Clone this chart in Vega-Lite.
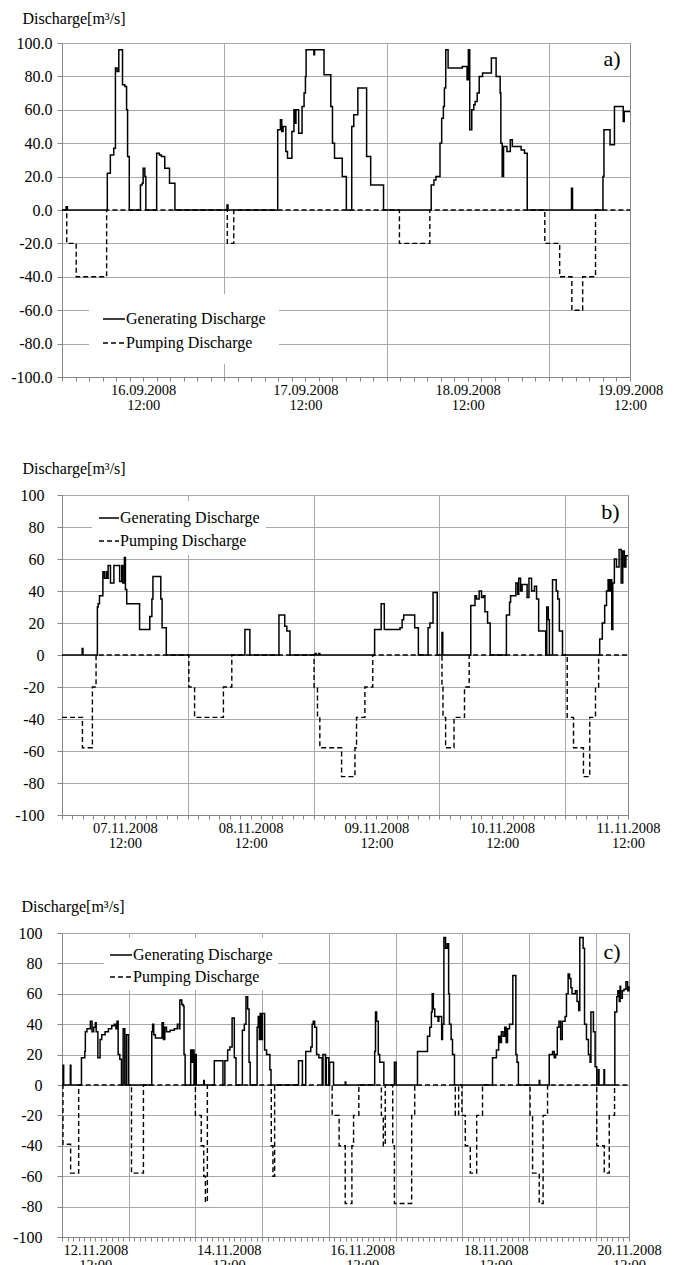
{
  "$schema": "https://vega.github.io/schema/vega-lite/v6.json",
  "background": "white",
  "padding": {"left": 10, "top": 9, "right": 5, "bottom": 5},
  "datasets": {
    "a_gen": [
      {"t": "2008-09-16T00:00:00Z", "q": 0}, {"t": "2008-09-16T00:36:00Z", "q": 2}, {"t": "2008-09-16T00:48:00Z", "q": 0},
      {"t": "2008-09-16T06:42:00Z", "q": 22}, {"t": "2008-09-16T07:09:00Z", "q": 33}, {"t": "2008-09-16T07:39:00Z", "q": 37},
      {"t": "2008-09-16T07:54:00Z", "q": 85}, {"t": "2008-09-16T08:09:00Z", "q": 83}, {"t": "2008-09-16T08:24:00Z", "q": 96},
      {"t": "2008-09-16T08:57:00Z", "q": 75}, {"t": "2008-09-16T09:18:00Z", "q": 74}, {"t": "2008-09-16T09:33:00Z", "q": 60},
      {"t": "2008-09-16T09:42:00Z", "q": 32}, {"t": "2008-09-16T09:57:00Z", "q": 0}, {"t": "2008-09-16T11:36:00Z", "q": 15},
      {"t": "2008-09-16T11:51:00Z", "q": 16}, {"t": "2008-09-16T12:00:00Z", "q": 25}, {"t": "2008-09-16T12:15:00Z", "q": 20},
      {"t": "2008-09-16T12:24:00Z", "q": 0}, {"t": "2008-09-16T14:00:00Z", "q": 34}, {"t": "2008-09-16T14:24:00Z", "q": 33},
      {"t": "2008-09-16T14:42:00Z", "q": 32}, {"t": "2008-09-16T15:12:00Z", "q": 25}, {"t": "2008-09-16T15:54:00Z", "q": 16},
      {"t": "2008-09-16T16:42:00Z", "q": 0}, {"t": "2008-09-17T00:24:00Z", "q": 3}, {"t": "2008-09-17T00:33:00Z", "q": 0},
      {"t": "2008-09-17T07:54:00Z", "q": 48}, {"t": "2008-09-17T08:18:00Z", "q": 54}, {"t": "2008-09-17T08:30:00Z", "q": 47},
      {"t": "2008-09-17T08:42:00Z", "q": 50}, {"t": "2008-09-17T09:06:00Z", "q": 35}, {"t": "2008-09-17T09:21:00Z", "q": 31},
      {"t": "2008-09-17T10:00:00Z", "q": 47}, {"t": "2008-09-17T10:18:00Z", "q": 60}, {"t": "2008-09-17T10:27:00Z", "q": 52},
      {"t": "2008-09-17T10:36:00Z", "q": 60}, {"t": "2008-09-17T11:00:00Z", "q": 46}, {"t": "2008-09-17T11:30:00Z", "q": 62},
      {"t": "2008-09-17T11:48:00Z", "q": 70}, {"t": "2008-09-17T12:00:00Z", "q": 80}, {"t": "2008-09-17T12:06:00Z", "q": 96},
      {"t": "2008-09-17T13:15:00Z", "q": 93}, {"t": "2008-09-17T13:21:00Z", "q": 96}, {"t": "2008-09-17T14:45:00Z", "q": 81},
      {"t": "2008-09-17T15:45:00Z", "q": 62}, {"t": "2008-09-17T16:00:00Z", "q": 40}, {"t": "2008-09-17T16:18:00Z", "q": 31},
      {"t": "2008-09-17T17:27:00Z", "q": 20}, {"t": "2008-09-17T18:03:00Z", "q": 0}, {"t": "2008-09-17T18:51:00Z", "q": 50},
      {"t": "2008-09-17T19:09:00Z", "q": 57}, {"t": "2008-09-17T19:45:00Z", "q": 73}, {"t": "2008-09-17T21:03:00Z", "q": 32},
      {"t": "2008-09-17T21:39:00Z", "q": 15}, {"t": "2008-09-17T23:33:00Z", "q": 0}, {"t": "2008-09-18T06:36:00Z", "q": 15},
      {"t": "2008-09-18T07:00:00Z", "q": 18}, {"t": "2008-09-18T07:18:00Z", "q": 20}, {"t": "2008-09-18T07:54:00Z", "q": 40},
      {"t": "2008-09-18T08:09:00Z", "q": 55}, {"t": "2008-09-18T08:24:00Z", "q": 62}, {"t": "2008-09-18T08:33:00Z", "q": 73},
      {"t": "2008-09-18T08:45:00Z", "q": 96}, {"t": "2008-09-18T09:06:00Z", "q": 85}, {"t": "2008-09-18T11:12:00Z", "q": 86},
      {"t": "2008-09-18T11:54:00Z", "q": 78}, {"t": "2008-09-18T12:06:00Z", "q": 96}, {"t": "2008-09-18T12:18:00Z", "q": 48},
      {"t": "2008-09-18T12:36:00Z", "q": 60}, {"t": "2008-09-18T12:54:00Z", "q": 63}, {"t": "2008-09-18T13:06:00Z", "q": 65},
      {"t": "2008-09-18T13:24:00Z", "q": 70}, {"t": "2008-09-18T13:42:00Z", "q": 80}, {"t": "2008-09-18T14:12:00Z", "q": 82},
      {"t": "2008-09-18T15:30:00Z", "q": 91}, {"t": "2008-09-18T16:12:00Z", "q": 80}, {"t": "2008-09-18T16:48:00Z", "q": 70},
      {"t": "2008-09-18T16:54:00Z", "q": 40}, {"t": "2008-09-18T17:06:00Z", "q": 20}, {"t": "2008-09-18T17:18:00Z", "q": 38},
      {"t": "2008-09-18T17:48:00Z", "q": 35}, {"t": "2008-09-18T18:18:00Z", "q": 42}, {"t": "2008-09-18T18:36:00Z", "q": 38},
      {"t": "2008-09-18T19:54:00Z", "q": 36}, {"t": "2008-09-18T20:24:00Z", "q": 34}, {"t": "2008-09-18T20:48:00Z", "q": 0},
      {"t": "2008-09-19T03:21:00Z", "q": 13}, {"t": "2008-09-19T03:30:00Z", "q": 0}, {"t": "2008-09-19T08:00:00Z", "q": 20},
      {"t": "2008-09-19T08:09:00Z", "q": 48}, {"t": "2008-09-19T09:03:00Z", "q": 39}, {"t": "2008-09-19T09:42:00Z", "q": 62},
      {"t": "2008-09-19T11:00:00Z", "q": 53}, {"t": "2008-09-19T11:09:00Z", "q": 59}, {"t": "2008-09-19T12:00:00Z", "q": 59}
    ],
    "a_pump": [
      {"t": "2008-09-16T00:00:00Z", "q": 0}, {"t": "2008-09-16T00:42:00Z", "q": -20}, {"t": "2008-09-16T02:06:00Z", "q": -40},
      {"t": "2008-09-16T06:36:00Z", "q": 0}, {"t": "2008-09-17T00:27:00Z", "q": -20}, {"t": "2008-09-17T01:24:00Z", "q": 0},
      {"t": "2008-09-18T01:54:00Z", "q": -20}, {"t": "2008-09-18T06:24:00Z", "q": 0}, {"t": "2008-09-18T23:24:00Z", "q": -20},
      {"t": "2008-09-19T01:36:00Z", "q": -40}, {"t": "2008-09-19T03:24:00Z", "q": -60}, {"t": "2008-09-19T05:00:00Z", "q": -40},
      {"t": "2008-09-19T06:54:00Z", "q": 0}, {"t": "2008-09-19T12:00:00Z", "q": 0}
    ],
    "b_gen": [
      {"t": "2008-11-07T00:00:00Z", "q": 0}, {"t": "2008-11-07T03:51:00Z", "q": 4}, {"t": "2008-11-07T04:00:00Z", "q": 0},
      {"t": "2008-11-07T06:45:00Z", "q": 30}, {"t": "2008-11-07T06:54:00Z", "q": 32}, {"t": "2008-11-07T07:09:00Z", "q": 37},
      {"t": "2008-11-07T07:48:00Z", "q": 52}, {"t": "2008-11-07T08:06:00Z", "q": 48}, {"t": "2008-11-07T08:27:00Z", "q": 52},
      {"t": "2008-11-07T08:39:00Z", "q": 48}, {"t": "2008-11-07T08:48:00Z", "q": 56}, {"t": "2008-11-07T09:15:00Z", "q": 45},
      {"t": "2008-11-07T09:54:00Z", "q": 56}, {"t": "2008-11-07T11:00:00Z", "q": 46}, {"t": "2008-11-07T11:24:00Z", "q": 56},
      {"t": "2008-11-07T11:36:00Z", "q": 45}, {"t": "2008-11-07T11:54:00Z", "q": 61}, {"t": "2008-11-07T12:06:00Z", "q": 41},
      {"t": "2008-11-07T12:21:00Z", "q": 32}, {"t": "2008-11-07T14:48:00Z", "q": 16}, {"t": "2008-11-07T16:45:00Z", "q": 24},
      {"t": "2008-11-07T17:09:00Z", "q": 35}, {"t": "2008-11-07T17:21:00Z", "q": 49}, {"t": "2008-11-07T18:51:00Z", "q": 35},
      {"t": "2008-11-07T19:06:00Z", "q": 17}, {"t": "2008-11-07T19:54:00Z", "q": 0}, {"t": "2008-11-08T10:54:00Z", "q": 16},
      {"t": "2008-11-08T11:51:00Z", "q": 0}, {"t": "2008-11-08T17:24:00Z", "q": 25}, {"t": "2008-11-08T18:30:00Z", "q": 18},
      {"t": "2008-11-08T18:54:00Z", "q": 15}, {"t": "2008-11-08T19:30:00Z", "q": 0}, {"t": "2008-11-09T00:18:00Z", "q": 1},
      {"t": "2008-11-09T00:30:00Z", "q": 0}, {"t": "2008-11-09T01:00:00Z", "q": 1}, {"t": "2008-11-09T01:12:00Z", "q": 0},
      {"t": "2008-11-09T11:39:00Z", "q": 16}, {"t": "2008-11-09T12:54:00Z", "q": 32}, {"t": "2008-11-09T13:30:00Z", "q": 16},
      {"t": "2008-11-09T16:30:00Z", "q": 17}, {"t": "2008-11-09T16:54:00Z", "q": 22}, {"t": "2008-11-09T17:12:00Z", "q": 25},
      {"t": "2008-11-09T19:18:00Z", "q": 17}, {"t": "2008-11-09T20:00:00Z", "q": 0}, {"t": "2008-11-09T21:51:00Z", "q": 17},
      {"t": "2008-11-09T22:12:00Z", "q": 20}, {"t": "2008-11-09T22:48:00Z", "q": 39}, {"t": "2008-11-09T23:36:00Z", "q": 0},
      {"t": "2008-11-10T00:30:00Z", "q": 14}, {"t": "2008-11-10T00:39:00Z", "q": 0}, {"t": "2008-11-10T06:00:00Z", "q": 31},
      {"t": "2008-11-10T06:48:00Z", "q": 37}, {"t": "2008-11-10T07:06:00Z", "q": 35}, {"t": "2008-11-10T07:36:00Z", "q": 40},
      {"t": "2008-11-10T08:03:00Z", "q": 36}, {"t": "2008-11-10T08:24:00Z", "q": 37}, {"t": "2008-11-10T08:42:00Z", "q": 27},
      {"t": "2008-11-10T09:12:00Z", "q": 20}, {"t": "2008-11-10T09:42:00Z", "q": 0}, {"t": "2008-11-10T12:48:00Z", "q": 25},
      {"t": "2008-11-10T13:24:00Z", "q": 33}, {"t": "2008-11-10T13:36:00Z", "q": 37}, {"t": "2008-11-10T14:36:00Z", "q": 45},
      {"t": "2008-11-10T14:57:00Z", "q": 38}, {"t": "2008-11-10T15:09:00Z", "q": 48}, {"t": "2008-11-10T15:30:00Z", "q": 40},
      {"t": "2008-11-10T15:48:00Z", "q": 44}, {"t": "2008-11-10T16:45:00Z", "q": 36}, {"t": "2008-11-10T17:06:00Z", "q": 48},
      {"t": "2008-11-10T17:36:00Z", "q": 40}, {"t": "2008-11-10T18:09:00Z", "q": 43}, {"t": "2008-11-10T18:33:00Z", "q": 35},
      {"t": "2008-11-10T18:57:00Z", "q": 15}, {"t": "2008-11-10T20:18:00Z", "q": 0}, {"t": "2008-11-10T20:30:00Z", "q": 30},
      {"t": "2008-11-10T20:48:00Z", "q": 22}, {"t": "2008-11-10T21:00:00Z", "q": 0}, {"t": "2008-11-10T21:36:00Z", "q": 47},
      {"t": "2008-11-10T22:18:00Z", "q": 40}, {"t": "2008-11-10T22:36:00Z", "q": 35}, {"t": "2008-11-10T22:54:00Z", "q": 15},
      {"t": "2008-11-10T23:30:00Z", "q": 0}, {"t": "2008-11-11T06:36:00Z", "q": 10}, {"t": "2008-11-11T07:06:00Z", "q": 20},
      {"t": "2008-11-11T07:33:00Z", "q": 31}, {"t": "2008-11-11T07:54:00Z", "q": 40}, {"t": "2008-11-11T08:12:00Z", "q": 47},
      {"t": "2008-11-11T08:27:00Z", "q": 40}, {"t": "2008-11-11T08:42:00Z", "q": 47}, {"t": "2008-11-11T08:54:00Z", "q": 16},
      {"t": "2008-11-11T09:06:00Z", "q": 45}, {"t": "2008-11-11T09:24:00Z", "q": 60}, {"t": "2008-11-11T09:48:00Z", "q": 55},
      {"t": "2008-11-11T10:18:00Z", "q": 66}, {"t": "2008-11-11T10:42:00Z", "q": 45}, {"t": "2008-11-11T11:00:00Z", "q": 65},
      {"t": "2008-11-11T11:18:00Z", "q": 55}, {"t": "2008-11-11T11:36:00Z", "q": 62}, {"t": "2008-11-11T12:00:00Z", "q": 62}
    ],
    "b_pump": [
      {"t": "2008-11-07T00:00:00Z", "q": -39}, {"t": "2008-11-07T03:54:00Z", "q": -58}, {"t": "2008-11-07T05:48:00Z", "q": -20},
      {"t": "2008-11-07T06:30:00Z", "q": 0}, {"t": "2008-11-08T00:12:00Z", "q": -20}, {"t": "2008-11-08T01:18:00Z", "q": -39},
      {"t": "2008-11-08T06:48:00Z", "q": -20}, {"t": "2008-11-08T08:24:00Z", "q": 0}, {"t": "2008-11-09T00:06:00Z", "q": -20},
      {"t": "2008-11-09T00:45:00Z", "q": -38}, {"t": "2008-11-09T01:12:00Z", "q": -58}, {"t": "2008-11-09T05:21:00Z", "q": -76},
      {"t": "2008-11-09T07:54:00Z", "q": -58}, {"t": "2008-11-09T08:12:00Z", "q": -39}, {"t": "2008-11-09T09:48:00Z", "q": -20},
      {"t": "2008-11-09T11:18:00Z", "q": 0}, {"t": "2008-11-10T00:30:00Z", "q": -20}, {"t": "2008-11-10T00:42:00Z", "q": -39},
      {"t": "2008-11-10T01:12:00Z", "q": -58}, {"t": "2008-11-10T02:48:00Z", "q": -39}, {"t": "2008-11-10T04:48:00Z", "q": -20},
      {"t": "2008-11-10T05:42:00Z", "q": 0}, {"t": "2008-11-11T00:24:00Z", "q": -39}, {"t": "2008-11-11T01:36:00Z", "q": -58},
      {"t": "2008-11-11T03:30:00Z", "q": -76}, {"t": "2008-11-11T04:42:00Z", "q": -39}, {"t": "2008-11-11T05:48:00Z", "q": -20},
      {"t": "2008-11-11T06:24:00Z", "q": 0}, {"t": "2008-11-11T12:00:00Z", "q": 0}
    ],
    "c_gen": [
      {"t": "2008-11-12T00:00:00Z", "q": 0}, {"t": "2008-11-12T00:24:00Z", "q": 13}, {"t": "2008-11-12T00:36:00Z", "q": 0},
      {"t": "2008-11-12T03:00:00Z", "q": 13}, {"t": "2008-11-12T03:12:00Z", "q": 0}, {"t": "2008-11-12T07:00:00Z", "q": 18},
      {"t": "2008-11-12T08:12:00Z", "q": 22}, {"t": "2008-11-12T08:24:00Z", "q": 35}, {"t": "2008-11-12T09:00:00Z", "q": 37},
      {"t": "2008-11-12T10:12:00Z", "q": 42}, {"t": "2008-11-12T10:48:00Z", "q": 35}, {"t": "2008-11-12T11:24:00Z", "q": 38},
      {"t": "2008-11-12T12:00:00Z", "q": 41}, {"t": "2008-11-12T12:18:00Z", "q": 35}, {"t": "2008-11-12T12:54:00Z", "q": 18},
      {"t": "2008-11-12T13:42:00Z", "q": 30}, {"t": "2008-11-12T14:18:00Z", "q": 33}, {"t": "2008-11-12T15:30:00Z", "q": 35},
      {"t": "2008-11-12T16:42:00Z", "q": 37}, {"t": "2008-11-12T17:54:00Z", "q": 39}, {"t": "2008-11-12T18:48:00Z", "q": 40},
      {"t": "2008-11-12T19:24:00Z", "q": 37}, {"t": "2008-11-12T19:48:00Z", "q": 42}, {"t": "2008-11-12T20:12:00Z", "q": 20},
      {"t": "2008-11-12T20:48:00Z", "q": 17}, {"t": "2008-11-12T21:24:00Z", "q": 0}, {"t": "2008-11-12T22:00:00Z", "q": 37},
      {"t": "2008-11-12T22:36:00Z", "q": 0}, {"t": "2008-11-12T23:12:00Z", "q": 33}, {"t": "2008-11-12T23:54:00Z", "q": 0},
      {"t": "2008-11-13T08:18:00Z", "q": 35}, {"t": "2008-11-13T08:36:00Z", "q": 40}, {"t": "2008-11-13T09:00:00Z", "q": 33},
      {"t": "2008-11-13T09:36:00Z", "q": 31}, {"t": "2008-11-13T12:00:00Z", "q": 41}, {"t": "2008-11-13T12:30:00Z", "q": 30},
      {"t": "2008-11-13T13:00:00Z", "q": 38}, {"t": "2008-11-13T13:36:00Z", "q": 35}, {"t": "2008-11-13T14:54:00Z", "q": 36},
      {"t": "2008-11-13T16:24:00Z", "q": 37}, {"t": "2008-11-13T17:30:00Z", "q": 40}, {"t": "2008-11-13T18:12:00Z", "q": 37},
      {"t": "2008-11-13T18:24:00Z", "q": 56}, {"t": "2008-11-13T19:06:00Z", "q": 53}, {"t": "2008-11-13T19:36:00Z", "q": 52},
      {"t": "2008-11-13T19:54:00Z", "q": 20}, {"t": "2008-11-13T20:18:00Z", "q": 0}, {"t": "2008-11-13T22:18:00Z", "q": 23},
      {"t": "2008-11-13T22:42:00Z", "q": 15}, {"t": "2008-11-13T23:00:00Z", "q": 23}, {"t": "2008-11-13T23:30:00Z", "q": 0},
      {"t": "2008-11-13T23:48:00Z", "q": 20}, {"t": "2008-11-14T00:18:00Z", "q": 0}, {"t": "2008-11-14T03:00:00Z", "q": 3},
      {"t": "2008-11-14T03:12:00Z", "q": 0}, {"t": "2008-11-14T06:48:00Z", "q": 16}, {"t": "2008-11-14T09:54:00Z", "q": 0},
      {"t": "2008-11-14T10:36:00Z", "q": 16}, {"t": "2008-11-14T11:36:00Z", "q": 23}, {"t": "2008-11-14T12:24:00Z", "q": 25},
      {"t": "2008-11-14T13:12:00Z", "q": 44}, {"t": "2008-11-14T14:00:00Z", "q": 18}, {"t": "2008-11-14T14:36:00Z", "q": 0},
      {"t": "2008-11-14T16:54:00Z", "q": 36}, {"t": "2008-11-14T17:36:00Z", "q": 40}, {"t": "2008-11-14T18:12:00Z", "q": 58},
      {"t": "2008-11-14T18:48:00Z", "q": 50}, {"t": "2008-11-14T19:18:00Z", "q": 15}, {"t": "2008-11-14T19:42:00Z", "q": 0},
      {"t": "2008-11-14T22:12:00Z", "q": 38}, {"t": "2008-11-14T22:36:00Z", "q": 45}, {"t": "2008-11-14T23:00:00Z", "q": 30},
      {"t": "2008-11-14T23:18:00Z", "q": 47}, {"t": "2008-11-14T23:48:00Z", "q": 30}, {"t": "2008-11-15T00:06:00Z", "q": 47},
      {"t": "2008-11-15T00:54:00Z", "q": 23}, {"t": "2008-11-15T01:36:00Z", "q": 20}, {"t": "2008-11-15T02:48:00Z", "q": 10},
      {"t": "2008-11-15T03:12:00Z", "q": 0}, {"t": "2008-11-15T13:06:00Z", "q": 16}, {"t": "2008-11-15T14:30:00Z", "q": 0},
      {"t": "2008-11-15T15:42:00Z", "q": 22}, {"t": "2008-11-15T17:30:00Z", "q": 25}, {"t": "2008-11-15T18:00:00Z", "q": 40},
      {"t": "2008-11-15T18:24:00Z", "q": 42}, {"t": "2008-11-15T18:54:00Z", "q": 38}, {"t": "2008-11-15T19:36:00Z", "q": 20},
      {"t": "2008-11-15T20:24:00Z", "q": 18}, {"t": "2008-11-15T21:36:00Z", "q": 0}, {"t": "2008-11-15T21:54:00Z", "q": 20},
      {"t": "2008-11-15T22:48:00Z", "q": 0}, {"t": "2008-11-15T23:06:00Z", "q": 18}, {"t": "2008-11-16T00:00:00Z", "q": 0},
      {"t": "2008-11-16T00:18:00Z", "q": 15}, {"t": "2008-11-16T01:42:00Z", "q": 0}, {"t": "2008-11-16T05:54:00Z", "q": 2},
      {"t": "2008-11-16T06:06:00Z", "q": 0}, {"t": "2008-11-16T16:30:00Z", "q": 22}, {"t": "2008-11-16T16:48:00Z", "q": 48},
      {"t": "2008-11-16T17:12:00Z", "q": 42}, {"t": "2008-11-16T17:48:00Z", "q": 20}, {"t": "2008-11-16T18:18:00Z", "q": 15},
      {"t": "2008-11-16T19:48:00Z", "q": 0}, {"t": "2008-11-16T23:36:00Z", "q": 15}, {"t": "2008-11-17T00:12:00Z", "q": 0},
      {"t": "2008-11-17T07:54:00Z", "q": 22}, {"t": "2008-11-17T11:30:00Z", "q": 32}, {"t": "2008-11-17T12:18:00Z", "q": 38},
      {"t": "2008-11-17T12:54:00Z", "q": 48}, {"t": "2008-11-17T13:12:00Z", "q": 60}, {"t": "2008-11-17T13:36:00Z", "q": 50},
      {"t": "2008-11-17T14:06:00Z", "q": 45}, {"t": "2008-11-17T15:18:00Z", "q": 42}, {"t": "2008-11-17T15:36:00Z", "q": 45},
      {"t": "2008-11-17T16:36:00Z", "q": 30}, {"t": "2008-11-17T16:54:00Z", "q": 40}, {"t": "2008-11-17T17:24:00Z", "q": 97},
      {"t": "2008-11-17T18:00:00Z", "q": 90}, {"t": "2008-11-17T18:36:00Z", "q": 93}, {"t": "2008-11-17T19:06:00Z", "q": 60},
      {"t": "2008-11-17T19:24:00Z", "q": 40}, {"t": "2008-11-17T20:00:00Z", "q": 30}, {"t": "2008-11-17T20:30:00Z", "q": 20},
      {"t": "2008-11-17T21:12:00Z", "q": 0}, {"t": "2008-11-18T10:54:00Z", "q": 18}, {"t": "2008-11-18T12:18:00Z", "q": 23},
      {"t": "2008-11-18T13:06:00Z", "q": 32}, {"t": "2008-11-18T13:36:00Z", "q": 28}, {"t": "2008-11-18T14:06:00Z", "q": 35},
      {"t": "2008-11-18T14:42:00Z", "q": 32}, {"t": "2008-11-18T15:18:00Z", "q": 38}, {"t": "2008-11-18T15:48:00Z", "q": 28},
      {"t": "2008-11-18T16:18:00Z", "q": 37}, {"t": "2008-11-18T17:00:00Z", "q": 40}, {"t": "2008-11-18T18:12:00Z", "q": 72},
      {"t": "2008-11-18T19:18:00Z", "q": 20}, {"t": "2008-11-18T19:42:00Z", "q": 15}, {"t": "2008-11-18T20:12:00Z", "q": 0},
      {"t": "2008-11-19T03:42:00Z", "q": 3}, {"t": "2008-11-19T03:54:00Z", "q": 0}, {"t": "2008-11-19T07:18:00Z", "q": 20},
      {"t": "2008-11-19T08:30:00Z", "q": 22}, {"t": "2008-11-19T09:06:00Z", "q": 18}, {"t": "2008-11-19T09:36:00Z", "q": 20},
      {"t": "2008-11-19T10:12:00Z", "q": 38}, {"t": "2008-11-19T10:48:00Z", "q": 42}, {"t": "2008-11-19T11:24:00Z", "q": 30},
      {"t": "2008-11-19T12:00:00Z", "q": 42}, {"t": "2008-11-19T13:00:00Z", "q": 45}, {"t": "2008-11-19T13:30:00Z", "q": 60},
      {"t": "2008-11-19T14:06:00Z", "q": 73}, {"t": "2008-11-19T14:36:00Z", "q": 70}, {"t": "2008-11-19T15:06:00Z", "q": 64},
      {"t": "2008-11-19T15:30:00Z", "q": 60}, {"t": "2008-11-19T16:42:00Z", "q": 62}, {"t": "2008-11-19T17:18:00Z", "q": 55},
      {"t": "2008-11-19T17:54:00Z", "q": 49}, {"t": "2008-11-19T18:18:00Z", "q": 97}, {"t": "2008-11-19T19:30:00Z", "q": 90},
      {"t": "2008-11-19T20:00:00Z", "q": 40}, {"t": "2008-11-19T20:42:00Z", "q": 30}, {"t": "2008-11-19T21:24:00Z", "q": 20},
      {"t": "2008-11-19T22:00:00Z", "q": 15}, {"t": "2008-11-19T22:18:00Z", "q": 48}, {"t": "2008-11-19T23:12:00Z", "q": 35},
      {"t": "2008-11-19T23:48:00Z", "q": 12}, {"t": "2008-11-20T00:24:00Z", "q": 0}, {"t": "2008-11-20T01:00:00Z", "q": 10},
      {"t": "2008-11-20T01:12:00Z", "q": 0}, {"t": "2008-11-20T03:00:00Z", "q": 10}, {"t": "2008-11-20T03:12:00Z", "q": 0},
      {"t": "2008-11-20T06:54:00Z", "q": 48}, {"t": "2008-11-20T07:36:00Z", "q": 58}, {"t": "2008-11-20T08:00:00Z", "q": 62},
      {"t": "2008-11-20T08:30:00Z", "q": 55}, {"t": "2008-11-20T08:48:00Z", "q": 65}, {"t": "2008-11-20T09:00:00Z", "q": 57},
      {"t": "2008-11-20T09:36:00Z", "q": 62}, {"t": "2008-11-20T10:12:00Z", "q": 63}, {"t": "2008-11-20T10:54:00Z", "q": 68},
      {"t": "2008-11-20T11:30:00Z", "q": 62}, {"t": "2008-11-20T12:00:00Z", "q": 65}
    ],
    "c_pump": [
      {"t": "2008-11-12T00:00:00Z", "q": 0}, {"t": "2008-11-12T00:21:00Z", "q": -39}, {"t": "2008-11-12T03:06:00Z", "q": -58},
      {"t": "2008-11-12T06:00:00Z", "q": 0}, {"t": "2008-11-13T01:00:00Z", "q": -58}, {"t": "2008-11-13T05:18:00Z", "q": 0},
      {"t": "2008-11-14T00:00:00Z", "q": -20}, {"t": "2008-11-14T02:06:00Z", "q": -40}, {"t": "2008-11-14T03:00:00Z", "q": -60},
      {"t": "2008-11-14T03:36:00Z", "q": -77}, {"t": "2008-11-14T04:18:00Z", "q": 0}, {"t": "2008-11-15T03:18:00Z", "q": -40},
      {"t": "2008-11-15T03:54:00Z", "q": -60}, {"t": "2008-11-15T04:30:00Z", "q": 0}, {"t": "2008-11-16T01:12:00Z", "q": -20},
      {"t": "2008-11-16T03:42:00Z", "q": -40}, {"t": "2008-11-16T05:54:00Z", "q": -78}, {"t": "2008-11-16T08:18:00Z", "q": -40},
      {"t": "2008-11-16T08:54:00Z", "q": -20}, {"t": "2008-11-16T10:48:00Z", "q": 0}, {"t": "2008-11-16T18:54:00Z", "q": -20},
      {"t": "2008-11-16T19:36:00Z", "q": -40}, {"t": "2008-11-16T20:18:00Z", "q": 0}, {"t": "2008-11-16T23:00:00Z", "q": -40},
      {"t": "2008-11-16T23:36:00Z", "q": -78}, {"t": "2008-11-17T05:48:00Z", "q": -20}, {"t": "2008-11-17T06:54:00Z", "q": 0},
      {"t": "2008-11-17T21:30:00Z", "q": -20}, {"t": "2008-11-17T22:42:00Z", "q": 0}, {"t": "2008-11-17T23:54:00Z", "q": -20},
      {"t": "2008-11-18T01:06:00Z", "q": -40}, {"t": "2008-11-18T02:54:00Z", "q": -58}, {"t": "2008-11-18T05:12:00Z", "q": -20},
      {"t": "2008-11-18T07:18:00Z", "q": 0}, {"t": "2008-11-19T00:24:00Z", "q": -20}, {"t": "2008-11-19T01:18:00Z", "q": -58},
      {"t": "2008-11-19T03:42:00Z", "q": -78}, {"t": "2008-11-19T05:06:00Z", "q": -20}, {"t": "2008-11-19T06:42:00Z", "q": 0},
      {"t": "2008-11-20T00:24:00Z", "q": -40}, {"t": "2008-11-20T03:06:00Z", "q": -58}, {"t": "2008-11-20T04:54:00Z", "q": -20},
      {"t": "2008-11-20T06:48:00Z", "q": 0}, {"t": "2008-11-20T12:00:00Z", "q": 0}
    ]
  },
  "vconcat": [
    {
      "width": 568,
      "height": 334,
      "layer": [
        {
          "data": {"name": "a_pump"},
          "mark": {"type": "line", "interpolate": "step-after", "color": "black", "strokeWidth": 1.4},
          "encoding": {
            "x": {
              "field": "t", "type": "temporal",
              "scale": {"type": "utc", "domain": [{"year": 2008, "month": 9, "date": 16, "utc": true}, {"year": 2008, "month": 9, "date": 19, "hours": 12, "utc": true}]},
              "axis": {
                "title": null,
                "grid": true,
                "tickCount": 500,
                "values": [1221523200000, 1221530400000, 1221537600000, 1221544800000, 1221552000000, 1221559200000, 1221566400000, 1221573600000, 1221580800000, 1221588000000, 1221595200000, 1221602400000, 1221609600000, 1221616800000, 1221624000000, 1221631200000, 1221638400000, 1221645600000, 1221652800000, 1221660000000, 1221667200000, 1221674400000, 1221681600000, 1221688800000, 1221696000000, 1221703200000, 1221710400000, 1221717600000, 1221724800000, 1221732000000, 1221739200000, 1221746400000, 1221753600000, 1221760800000, 1221768000000, 1221775200000, 1221782400000, 1221789600000, 1221796800000, 1221804000000, 1221811200000, 1221818400000, 1221825600000],
                "gridOpacity": {"condition": {"test": "utchours(datum.value) == 0", "value": 1}, "value": 0},
                "labelExpr": "utchours(datum.value) == 12 ? [utcFormat(datum.value, '%d.%m.%Y'), '12:00'] : ''"
              }
            },
            "y": {
              "field": "q", "type": "quantitative",
              "scale": {"domain": [-100, 100]},
              "axis": {
                "values": [-100, -80, -60, -40, -20, 0, 20, 40, 60, 80, 100],
                "tickCount": 50,
                "labelExpr": "replace(format(datum.value, '.1f'), '\u2212', '-')",
                "labelOverlap": false,
                "labelPadding": 5,
                "title": "Discharge[m³/s]",
                "titleX": -40, "titleY": -20
              }
            },
            "strokeDash": {
              "datum": "Pumping Discharge", "type": "nominal",
              "scale": {"domain": ["Generating Discharge", "Pumping Discharge"], "range": [[1, 0], [5, 3]]},
              "legend": {"orient": "none", "legendX": 27, "legendY": 251, "padding": 13, "rowPadding": 4, "symbolSize": 484}
            }
          }
        },
        {
          "data": {"name": "a_gen"},
          "mark": {"type": "line", "interpolate": "step-after", "color": "black", "strokeWidth": 1.5},
          "encoding": {
            "x": {"field": "t", "type": "temporal"},
            "y": {"field": "q", "type": "quantitative"},
            "strokeDash": {"datum": "Generating Discharge", "type": "nominal"}
          }
        },
        {
          "data": {"values": [{"tag": "a)"}]},
          "mark": {"type": "text", "align": "right", "baseline": "alphabetic", "fontSize": 22, "font": "Liberation Serif", "color": "black"},
          "encoding": {
            "x": {"datum": 1221820560000, "type": "temporal"},
            "y": {"datum": 86, "type": "quantitative"},
            "text": {"field": "tag", "type": "nominal"}
          }
        }
      ]
    },
    {
      "width": 566,
      "height": 320,
      "layer": [
        {
          "data": {"name": "b_pump"},
          "mark": {"type": "line", "interpolate": "step-after", "color": "black", "strokeWidth": 1.4},
          "encoding": {
            "x": {
              "field": "t", "type": "temporal",
              "scale": {"type": "utc", "domain": [{"year": 2008, "month": 11, "date": 7, "utc": true}, {"year": 2008, "month": 11, "date": 11, "hours": 12, "utc": true}]},
              "axis": {
                "title": null,
                "grid": true,
                "tickCount": 500,
                "values": [1226016000000, 1226023200000, 1226030400000, 1226037600000, 1226044800000, 1226052000000, 1226059200000, 1226066400000, 1226073600000, 1226080800000, 1226088000000, 1226095200000, 1226102400000, 1226109600000, 1226116800000, 1226124000000, 1226131200000, 1226138400000, 1226145600000, 1226152800000, 1226160000000, 1226167200000, 1226174400000, 1226181600000, 1226188800000, 1226196000000, 1226203200000, 1226210400000, 1226217600000, 1226224800000, 1226232000000, 1226239200000, 1226246400000, 1226253600000, 1226260800000, 1226268000000, 1226275200000, 1226282400000, 1226289600000, 1226296800000, 1226304000000, 1226311200000, 1226318400000, 1226325600000, 1226332800000, 1226340000000, 1226347200000, 1226354400000, 1226361600000, 1226368800000, 1226376000000, 1226383200000, 1226390400000, 1226397600000, 1226404800000],
                "gridOpacity": {"condition": {"test": "utchours(datum.value) == 0", "value": 1}, "value": 0},
                "labelExpr": "utchours(datum.value) == 12 ? [utcFormat(datum.value, '%d.%m.%Y'), '12:00'] : ''"
              }
            },
            "y": {
              "field": "q", "type": "quantitative",
              "scale": {"domain": [-100, 100]},
              "axis": {
                "values": [-100, -80, -60, -40, -20, 0, 20, 40, 60, 80, 100],
                "tickCount": 50,
                "labelExpr": "replace(format(datum.value, 'd'), '\u2212', '-')",
                "labelOverlap": false,
                "labelPadding": 13,
                "title": "Discharge[m³/s]",
                "titleX": -40, "titleY": -22
              }
            },
            "strokeDash": {
              "datum": "Pumping Discharge", "type": "nominal",
              "scale": {"domain": ["Generating Discharge", "Pumping Discharge"], "range": [[1, 0], [5, 3]]},
              "legend": {"orient": "none", "legendX": 30, "legendY": 6, "padding": 6, "rowPadding": 4, "symbolSize": 400}
            }
          }
        },
        {
          "data": {"name": "b_gen"},
          "mark": {"type": "line", "interpolate": "step-after", "color": "black", "strokeWidth": 1.5},
          "encoding": {
            "x": {"field": "t", "type": "temporal"},
            "y": {"field": "q", "type": "quantitative"},
            "strokeDash": {"datum": "Generating Discharge", "type": "nominal"}
          }
        },
        {
          "data": {"values": [{"tag": "b)"}]},
          "mark": {"type": "text", "align": "right", "baseline": "alphabetic", "fontSize": 22, "font": "Liberation Serif", "color": "black"},
          "encoding": {
            "x": {"datum": 1226399040000, "type": "temporal"},
            "y": {"datum": 85, "type": "quantitative"},
            "text": {"field": "tag", "type": "nominal"}
          }
        }
      ]
    },
    {
      "width": 567,
      "height": 304,
      "layer": [
        {
          "data": {"name": "c_pump"},
          "mark": {"type": "line", "interpolate": "step-after", "color": "black", "strokeWidth": 1.4},
          "encoding": {
            "x": {
              "field": "t", "type": "temporal",
              "scale": {"type": "utc", "domain": [{"year": 2008, "month": 11, "date": 12, "utc": true}, {"year": 2008, "month": 11, "date": 20, "hours": 12, "utc": true}]},
              "axis": {
                "title": null,
                "grid": true,
                "tickCount": 500,
                "values": [1226448000000, 1226455200000, 1226462400000, 1226469600000, 1226476800000, 1226484000000, 1226491200000, 1226498400000, 1226505600000, 1226512800000, 1226520000000, 1226527200000, 1226534400000, 1226541600000, 1226548800000, 1226556000000, 1226563200000, 1226570400000, 1226577600000, 1226584800000, 1226592000000, 1226599200000, 1226606400000, 1226613600000, 1226620800000, 1226628000000, 1226635200000, 1226642400000, 1226649600000, 1226656800000, 1226664000000, 1226671200000, 1226678400000, 1226685600000, 1226692800000, 1226700000000, 1226707200000, 1226714400000, 1226721600000, 1226728800000, 1226736000000, 1226743200000, 1226750400000, 1226757600000, 1226764800000, 1226772000000, 1226779200000, 1226786400000, 1226793600000, 1226800800000, 1226808000000, 1226815200000, 1226822400000, 1226829600000, 1226836800000, 1226844000000, 1226851200000, 1226858400000, 1226865600000, 1226872800000, 1226880000000, 1226887200000, 1226894400000, 1226901600000, 1226908800000, 1226916000000, 1226923200000, 1226930400000, 1226937600000, 1226944800000, 1226952000000, 1226959200000, 1226966400000, 1226973600000, 1226980800000, 1226988000000, 1226995200000, 1227002400000, 1227009600000, 1227016800000, 1227024000000, 1227031200000, 1227038400000, 1227045600000, 1227052800000, 1227060000000, 1227067200000, 1227074400000, 1227081600000, 1227088800000, 1227096000000, 1227103200000, 1227110400000, 1227117600000, 1227124800000, 1227132000000, 1227139200000, 1227146400000, 1227153600000, 1227160800000, 1227168000000, 1227175200000, 1227182400000],
                "gridOpacity": {"condition": {"test": "utchours(datum.value) == 0", "value": 1}, "value": 0},
                "labelExpr": "utchours(datum.value) == 12 && utcdate(datum.value) % 2 == 0 ? [utcFormat(datum.value, '%d.%m.%Y'), '12:00'] : ''"
              }
            },
            "y": {
              "field": "q", "type": "quantitative",
              "scale": {"domain": [-100, 100]},
              "axis": {
                "values": [-100, -80, -60, -40, -20, 0, 20, 40, 60, 80, 100],
                "tickCount": 50,
                "labelExpr": "replace(format(datum.value, 'd'), '\u2212', '-')",
                "labelOverlap": false,
                "labelPadding": 15,
                "title": "Discharge[m³/s]",
                "titleX": -41, "titleY": -22
              }
            },
            "strokeDash": {
              "datum": "Pumping Discharge", "type": "nominal",
              "scale": {"domain": ["Generating Discharge", "Pumping Discharge"], "range": [[1, 0], [5, 3]]},
              "legend": {"orient": "none", "legendX": 42, "legendY": 5, "padding": 5, "rowPadding": 2, "symbolSize": 484}
            }
          }
        },
        {
          "data": {"name": "c_gen"},
          "mark": {"type": "line", "interpolate": "step-after", "color": "black", "strokeWidth": 1.5},
          "encoding": {
            "x": {"field": "t", "type": "temporal"},
            "y": {"field": "q", "type": "quantitative"},
            "strokeDash": {"datum": "Generating Discharge", "type": "nominal"}
          }
        },
        {
          "data": {"values": [{"tag": "c)"}]},
          "mark": {"type": "text", "align": "right", "baseline": "alphabetic", "fontSize": 22, "font": "Liberation Serif", "color": "black"},
          "encoding": {
            "x": {"datum": 1227171600000, "type": "temporal"},
            "y": {"datum": 83, "type": "quantitative"},
            "text": {"field": "tag", "type": "nominal"}
          }
        }
      ]
    }
  ],
  "spacing": 118,
  "bounds": "flush",
  "resolve": {
    "scale": {"x": "independent", "y": "independent", "strokeDash": "independent"},
    "legend": {"strokeDash": "independent"}
  },
  "config": {
    "view": {"stroke": "#868686", "strokeWidth": 1},
    "font": "Liberation Serif",
    "axis": {
      "labelFont": "Liberation Serif",
      "titleFont": "Liberation Serif",
      "labelColor": "black",
      "titleColor": "black",
      "titleFontWeight": "normal",
      "domainColor": "#868686",
      "tickColor": "#868686",
      "gridColor": "#a8a8a8"
    },
    "axisX": {
      "tickSize": 4,
      "labelFontSize": 14.5,
      "labelLineHeight": 15,
      "labelPadding": 2,
      "labelOverlap": false,
      "labelFlush": false
    },
    "axisY": {
      "tickSize": 5,
      "labelFontSize": 16,
      "labelOverlap": false,
      "titleFontSize": 16,
      "titleAngle": 0,
      "titleAlign": "left",
      "titleBaseline": "alphabetic"
    },
    "legend": {
      "title": null,
      "symbolType": "stroke",
      "symbolStrokeColor": "black",
      "symbolStrokeWidth": 1.5,
      "labelFont": "Liberation Serif",
      "labelFontSize": 16,
      "labelColor": "black",
      "labelOffset": 0,
      "labelLimit": 300,
      "fillColor": "white"
    }
  }
}
